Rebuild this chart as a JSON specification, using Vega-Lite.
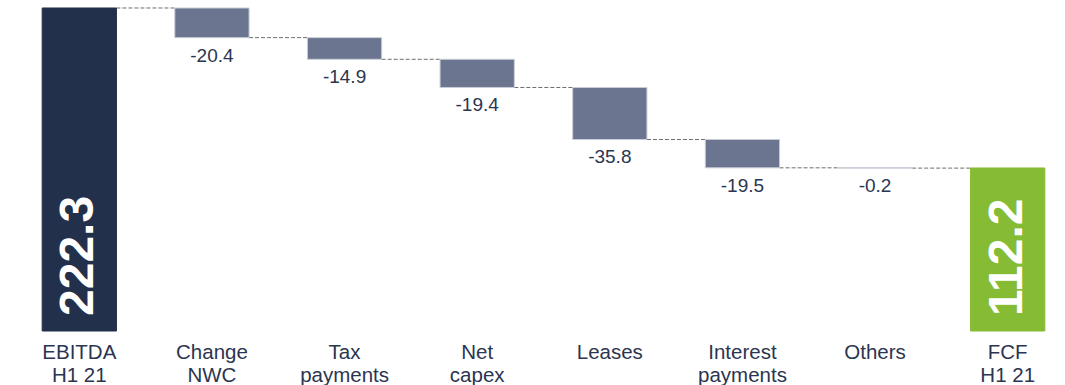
{
  "$schema": "https://vega.github.io/schema/vega-lite/v6.json",
  "width": 1052,
  "height": 331,
  "autosize": "none",
  "padding": {"left": 13, "top": 0, "right": 0, "bottom": 54},
  "background": "white",
  "config": {"view": {"stroke": null}, "font": "Liberation Sans"},
  "data": {
    "values": [
      {"label": "EBITDA|H1 21", "kind": "total", "start": 0, "end": 222.3, "value": "222.3", "next": "Change|NWC"},
      {"label": "Change|NWC", "kind": "step", "start": 222.3, "end": 201.9, "value": "-20.4", "next": "Tax|payments"},
      {"label": "Tax|payments", "kind": "step", "start": 201.9, "end": 187.0, "value": "-14.9", "next": "Net|capex"},
      {"label": "Net|capex", "kind": "step", "start": 187.0, "end": 167.6, "value": "-19.4", "next": "Leases"},
      {"label": "Leases", "kind": "step", "start": 167.6, "end": 131.8, "value": "-35.8", "next": "Interest|payments"},
      {"label": "Interest|payments", "kind": "step", "start": 131.8, "end": 112.3, "value": "-19.5", "next": "Others"},
      {"label": "Others", "kind": "step", "start": 112.3, "end": 112.1, "value": "-0.2", "next": "FCF|H1 21"},
      {"label": "FCF|H1 21", "kind": "fcf", "start": 0, "end": 112.2, "value": "112.2", "next": null}
    ]
  },
  "encoding": {
    "x": {
      "field": "label",
      "type": "nominal",
      "sort": null,
      "scale": {
        "domain": ["EBITDA|H1 21", "Change|NWC", "Tax|payments", "Net|capex", "Leases", "Interest|payments", "Others", "FCF|H1 21"],
        "range": [0, 1061],
        "paddingInner": 0.44,
        "paddingOuter": 0.22
      },
      "axis": {
        "title": null,
        "domain": false,
        "ticks": false,
        "labelAngle": 0,
        "labelPadding": 11,
        "labelFontSize": 20.5,
        "labelLineHeight": 23,
        "labelColor": "#2B3550",
        "labelFont": "Liberation Sans",
        "labelExpr": "split(datum.label, '|')"
      }
    }
  },
  "layer": [
    {
      "transform": [{"filter": "datum.next != null"}],
      "mark": {"type": "rule", "strokeDash": [4, 2], "color": "#6E6E6E", "strokeWidth": 1},
      "encoding": {
        "x": {"field": "label", "type": "nominal", "bandPosition": 1},
        "x2": {"field": "next", "bandPosition": 0},
        "y": {"field": "end", "type": "quantitative", "scale": {"domain": [0, 227.8], "nice": false}, "axis": null}
      }
    },
    {
      "mark": {"type": "bar", "strokeWidth": 1},
      "encoding": {
        "y": {"field": "start", "type": "quantitative", "scale": {"domain": [0, 227.8], "nice": false}, "axis": null},
        "y2": {"field": "end"},
        "color": {
          "field": "kind",
          "type": "nominal",
          "scale": {"domain": ["total", "step", "fcf"], "range": ["#23304C", "#6B7590", "#86BC34"]},
          "legend": null
        },
        "stroke": {
          "field": "kind",
          "type": "nominal",
          "scale": {"domain": ["total", "step", "fcf"], "range": ["#23304C", "#C9CDD6", "#86BC34"]},
          "legend": null
        }
      }
    },
    {
      "transform": [{"filter": "datum.kind == 'step'"}],
      "mark": {"type": "text", "baseline": "alphabetic", "align": "center", "dy": 24, "fontSize": 19, "color": "#2B3550"},
      "encoding": {
        "y": {"field": "end", "type": "quantitative"},
        "text": {"field": "value", "type": "nominal"}
      }
    },
    {
      "transform": [{"filter": "datum.kind != 'step'"}],
      "mark": {"type": "text", "angle": 270, "align": "left", "baseline": "middle", "dx": 15, "fontSize": 48, "fontWeight": "bold", "color": "white"},
      "encoding": {
        "y": {"datum": 0, "type": "quantitative"},
        "text": {"field": "value", "type": "nominal"}
      }
    },
    {
      "mark": {"type": "rule", "color": "#23304C", "strokeWidth": 2},
      "encoding": {
        "y": {"datum": 0, "type": "quantitative"}
      }
    }
  ]
}
